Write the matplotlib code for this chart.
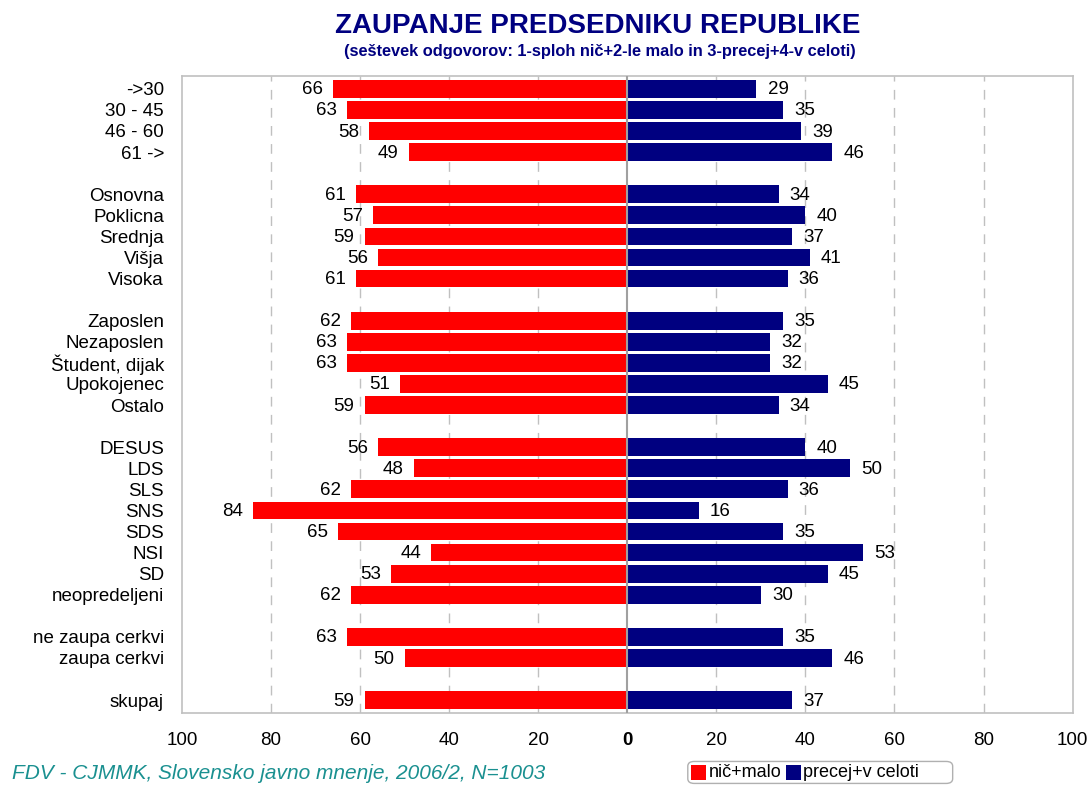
import numpy as np
import matplotlib.pyplot as plt
from matplotlib.patches import FancyBboxPatch

plt.rcParams['font.family'] = ['Liberation Sans', 'DejaVu Sans']

# podatki (None = prazna vrstica med skupinami)
kategorije = ['->30', '30 - 45', '46 - 60', '61 ->', None,
              'Osnovna', 'Poklicna', 'Srednja', 'Višja', 'Visoka', None,
              'Zaposlen', 'Nezaposlen', 'Študent, dijak', 'Upokojenec', 'Ostalo', None,
              'DESUS', 'LDS', 'SLS', 'SNS', 'SDS', 'NSI', 'SD', 'neopredeljeni', None,
              'ne zaupa cerkvi', 'zaupa cerkvi', None,
              'skupaj']
nic_malo = [66, 63, 58, 49, None,
            61, 57, 59, 56, 61, None,
            62, 63, 63, 51, 59, None,
            56, 48, 62, 84, 65, 44, 53, 62, None,
            63, 50, None,
            59]
precej = [29, 35, 39, 46, None,
          34, 40, 37, 41, 36, None,
          35, 32, 32, 45, 34, None,
          40, 50, 36, 16, 35, 53, 45, 30, None,
          35, 46, None,
          37]
ticks = [-100, -80, -60, -40, -20, 0, 20, 40, 60, 80, 100]

rdeca = '#ff0000'
modra = '#000080'
siva = '#c0c0c0'
fs = 13.5

fig = plt.figure(figsize=(10.9, 7.85), dpi=100)
ax = fig.add_axes([0.167, 0.092, 0.817, 0.811])

n = len(kategorije)
y = np.arange(n)
for i in range(n):
    if kategorije[i] is None:
        continue
    ax.barh(y[i], -nic_malo[i], height=0.84, color=rdeca, zorder=3)
    ax.barh(y[i], precej[i], height=0.84, color=modra, zorder=3)
    ax.text(-nic_malo[i] - 2.3, y[i] + 0.05, str(nic_malo[i]), ha='right', va='center', fontsize=fs)
    ax.text(precej[i] + 2.5, y[i] + 0.05, str(precej[i]), ha='left', va='center', fontsize=fs)

ax.set_xlim(-100, 100)
ax.set_ylim(n - 0.4, -0.6)
ax.set_yticks([i for i in range(n) if kategorije[i] is not None])
ax.set_yticklabels([k for k in kategorije if k is not None], fontsize=fs)
ax.set_xticks(ticks)
ax.set_xticklabels([str(abs(t)) for t in ticks], fontsize=fs)
ax.get_xticklabels()[5].set_fontweight('bold')
ax.tick_params(axis='both', length=0)
ax.tick_params(axis='y', pad=13)
ax.tick_params(axis='x', pad=14)

for t in ticks:
    if t == 0:
        ax.axvline(0, color='#a0a0a0', lw=1.5, zorder=4)
    elif abs(t) != 100:
        ax.axvline(t, color=siva, lw=1, ls=(0, (7, 6)), zorder=1)
for s in ax.spines.values():
    s.set_color(siva)
    s.set_linewidth(1.2)

fig.text(0.548, 0.967, 'ZAUPANJE PREDSEDNIKU REPUBLIKE', ha='center', va='center',
         fontsize=20, fontweight='bold', color=modra)
fig.text(0.550, 0.935, '(seštevek odgovorov: 1-sploh nič+2-le malo in 3-precej+4-v celoti)',
         ha='center', va='center', fontsize=11.8, fontweight='bold', color=modra)
fig.text(0.011, 0.002, 'FDV - CJMMK, Slovensko javno mnenje, 2006/2, N=1003',
         ha='left', va='bottom', fontsize=15, style='italic', color='#1a9090')

# legenda
lg = FancyBboxPatch((0.631, 0.002), 0.243, 0.028, boxstyle='round,pad=0,rounding_size=0.006',
                    transform=fig.transFigure, fc='white', ec='#b0b0b0', lw=1)
fig.patches.append(lg)
fig.patches.append(plt.Rectangle((0.634, 0.007), 0.014, 0.018, transform=fig.transFigure,
                                 fc=rdeca, ec='none'))
fig.text(0.650, 0.0155, 'nič+malo', ha='left', va='center', fontsize=13)
fig.patches.append(plt.Rectangle((0.721, 0.007), 0.014, 0.018, transform=fig.transFigure,
                                 fc=modra, ec='none'))
fig.text(0.737, 0.0155, 'precej+v celoti', ha='left', va='center', fontsize=13)

plt.savefig('out.png', dpi=100)
